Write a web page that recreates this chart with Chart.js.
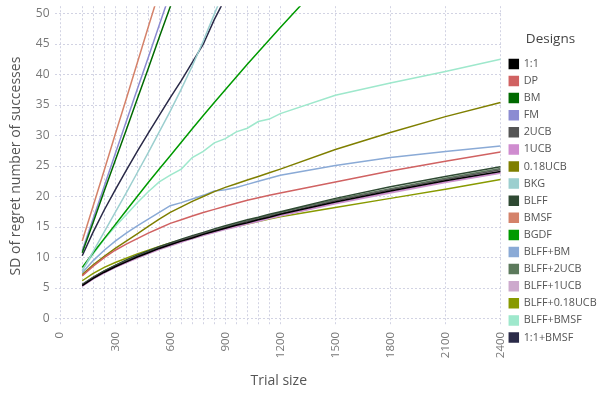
<!DOCTYPE html>
<html>
<head>
<meta charset="utf-8">
<script src="https://cdn.jsdelivr.net/npm/chart.js@4/dist/chart.umd.min.js"></script>
<style>
  html, body { margin:0; padding:0; background:#fff; }
  #wrap { width:598px; height:399px; }
</style>
</head>
<body>
<div id="wrap"><canvas id="myChart"></canvas></div>
<script>
// trial sizes (x)
var trialSizes=[120,180,240,300,360,420,480,540,600,660,720,780,840,900,960,1020,1080,1140,1200,1500,1800,2100,2400];
var xTickLabels=[0,300,600,900,1200,1500,1800,2100,2400];
var yTicks=[0,5,10,15,20,25,30,35,40,45,50];

// SD of regret, one array per design (null = above the plot)
var sd_11=[5.4,6.6,7.6,8.5,9.3,10.1,10.8,11.5,12.1,12.7,13.2,13.8,14.3,14.8,15.3,15.7,16.2,16.6,17.1,19.1,20.9,22.6,24.1];
var sd_DP=[7.0,8.6,10.0,11.2,12.2,13.1,14.0,14.8,15.6,16.2,16.8,17.4,17.9,18.4,18.9,19.4,19.8,20.2,20.6,22.4,24.2,25.8,27.3];
var sd_BM=[10.8,15.8,20.9,25.9,30.9,36.0,41.0,46.1,51.1,56.1,null,null,null,null,null,null,null,null,null,null,null,null,null];
var sd_FM=[11.1,16.4,21.7,27.0,32.3,37.6,42.8,48.1,53.4,null,null,null,null,null,null,null,null,null,null,null,null,null,null];
var sd_2UCB=[5.5,6.7,7.7,8.6,9.4,10.2,10.9,11.6,12.2,12.8,13.4,13.9,14.4,14.9,15.4,15.9,16.3,16.8,17.2,19.3,21.1,22.8,24.4];
var sd_1UCB=[5.3,6.5,7.5,8.4,9.2,10.0,10.7,11.4,12.0,12.6,13.1,13.7,14.2,14.7,15.1,15.6,16.0,16.5,16.9,18.9,20.7,22.4,23.9];
var sd_018UCB=[7.2,8.8,10.2,11.5,12.7,13.9,15.1,16.3,17.4,18.3,19.2,20.0,20.8,21.5,22.1,22.7,23.3,23.9,24.5,27.7,30.5,33.1,35.4];
var sd_BKG=[7.8,11.0,14.2,17.4,20.6,23.9,27.2,30.6,34.0,37.6,41.4,45.5,49.9,54.2,null,null,null,null,null,null,null,null,null];
var sd_BLFF=[5.6,6.8,7.8,8.7,9.6,10.4,11.1,11.8,12.4,13.0,13.6,14.1,14.7,15.2,15.7,16.2,16.6,17.1,17.5,19.7,21.6,23.3,24.9];
var sd_BMSF=[12.7,18.5,24.3,30.2,36.0,41.9,47.8,53.6,null,null,null,null,null,null,null,null,null,null,null,null,null,null,null];
var sd_BGDF=[8.4,10.8,13.1,15.4,17.7,20.0,22.3,24.5,26.7,28.9,31.1,33.3,35.4,37.5,39.6,41.7,43.7,45.7,47.7,57.5,null,null,null];
var sd_BLFF_BM=[7.5,9.5,11.2,12.7,14.0,15.2,16.3,17.4,18.5,19.0,19.6,20.2,20.9,21.1,21.5,22.0,22.5,23.0,23.5,25.1,26.4,27.4,28.3];
var sd_BLFF_2UCB=[5.5,6.7,7.8,8.7,9.5,10.3,11.0,11.7,12.3,12.9,13.5,14.0,14.5,15.0,15.5,16.0,16.5,16.9,17.4,19.5,21.3,23.0,24.6];
var sd_BLFF_1UCB=[5.3,6.5,7.5,8.4,9.2,9.9,10.6,11.3,11.9,12.5,13.1,13.6,14.1,14.6,15.0,15.5,15.9,16.4,16.8,18.8,20.6,22.3,23.8];
var sd_BLFF_018UCB=[6.2,7.4,8.4,9.2,9.9,10.6,11.2,11.8,12.4,12.9,13.4,13.9,14.3,14.7,15.1,15.5,15.9,16.3,16.7,18.2,19.7,21.2,22.8];
var sd_BLFF_BMSF=[7.9,10.6,13.0,15.1,17.0,19.0,20.8,22.4,23.5,24.5,26.4,27.4,28.8,29.5,30.6,31.2,32.3,32.7,33.6,36.6,38.6,40.5,42.5];
var sd_11_BMSF=[10.3,14.2,17.8,21.1,24.3,27.4,30.4,33.3,36.2,39.0,42.0,45.0,49.0,52.5,null,null,null,null,null,null,null,null,null];

var designs=['1:1','DP','BM','FM','2UCB','1UCB','0.18UCB','BKG','BLFF','BMSF','BGDF','BLFF+BM','BLFF+2UCB','BLFF+1UCB','BLFF+0.18UCB','BLFF+BMSF','1:1+BMSF'];
var series=[sd_11,sd_DP,sd_BM,sd_FM,sd_2UCB,sd_1UCB,sd_018UCB,sd_BKG,sd_BLFF,sd_BMSF,sd_BGDF,sd_BLFF_BM,sd_BLFF_2UCB,sd_BLFF_1UCB,sd_BLFF_018UCB,sd_BLFF_BMSF,sd_11_BMSF];
var colors=['#000000','#d06262','#006a00','#8c8cd2','#555555','#cf8ccf','#7f7f00','#9ccfcf','#2f4a33','#d4826a','#009a00','#8aaad6','#5c7a5c','#cdaacd','#889a00','#9ee8cc','#2a2a48'];

var sets=[];
for(var i=0;i<designs.length;i++){
	var pts=[];
	for(var j=0;j<trialSizes.length;j++){
		if(series[i][j]!==null) pts.push({x:trialSizes[j],y:series[i][j]});
	}
	sets.push({
		label:designs[i],
		data:pts,
		borderColor:colors[i],
		backgroundColor:colors[i],
		borderWidth:1.5,
		pointRadius:0,
		tension:0,
		fill:false
	});
}
// vertical grid at every trial size (plus 0)
var gridX=[0].concat(trialSizes);

var ctx=document.getElementById('myChart');
var chart=new Chart(ctx,{
	type:'line',
	data:{datasets:sets},
	options:{
		responsive:true,
		maintainAspectRatio:false,
		animation:false,
		layout:{padding:{top:0,right:0,bottom:6,left:4}},
		plugins:{
			tooltip:{enabled:false},
			legend:{
				position:'right',
				align:'start',
				maxWidth:95,
				title:{display:true,text:'Designs',color:'#444',font:{family:'Open Sans',size:13.5},padding:{top:32,bottom:4}},
				labels:{boxWidth:9,boxHeight:9,padding:6.3,color:'#555',font:{family:'Open Sans',size:10.8}}
			}
		},
		scales:{
			x:{
				type:'linear',
				min:-31,max:2414,
				border:{display:false,dash:[2,2]},
				grid:{color:'#d2d3e3',drawTicks:false,lineWidth:1},
				ticks:{
					autoSkip:false,minRotation:90,maxRotation:90,padding:6,color:'#777',
					font:{family:'Open Sans',size:11.5},
					callback:function(v){ return xTickLabels.indexOf(v)!=-1 ? String(v) : ''; }
				},
				afterBuildTicks:function(axis){ axis.ticks=gridX.map(function(v){return {value:v};}); },
				title:{display:true,text:'Trial size',color:'#555',font:{family:'Open Sans',size:14},padding:{top:8}}
			},
			y:{
				min:-1.2,max:51.2,
				border:{display:false,dash:[2,2]},
				grid:{color:'#d2d3e3',drawTicks:false,lineWidth:1},
				ticks:{color:'#777',padding:5,font:{family:'Open Sans',size:12,lineHeight:0.2}},
				afterBuildTicks:function(axis){ axis.ticks=yTicks.map(function(v){return {value:v};}); },
				title:{display:true,text:'SD of regret number of successes',color:'#555',font:{family:'Open Sans',size:14},padding:{bottom:6}}
			}
		}
	}
});
</script>
</body>
</html>
